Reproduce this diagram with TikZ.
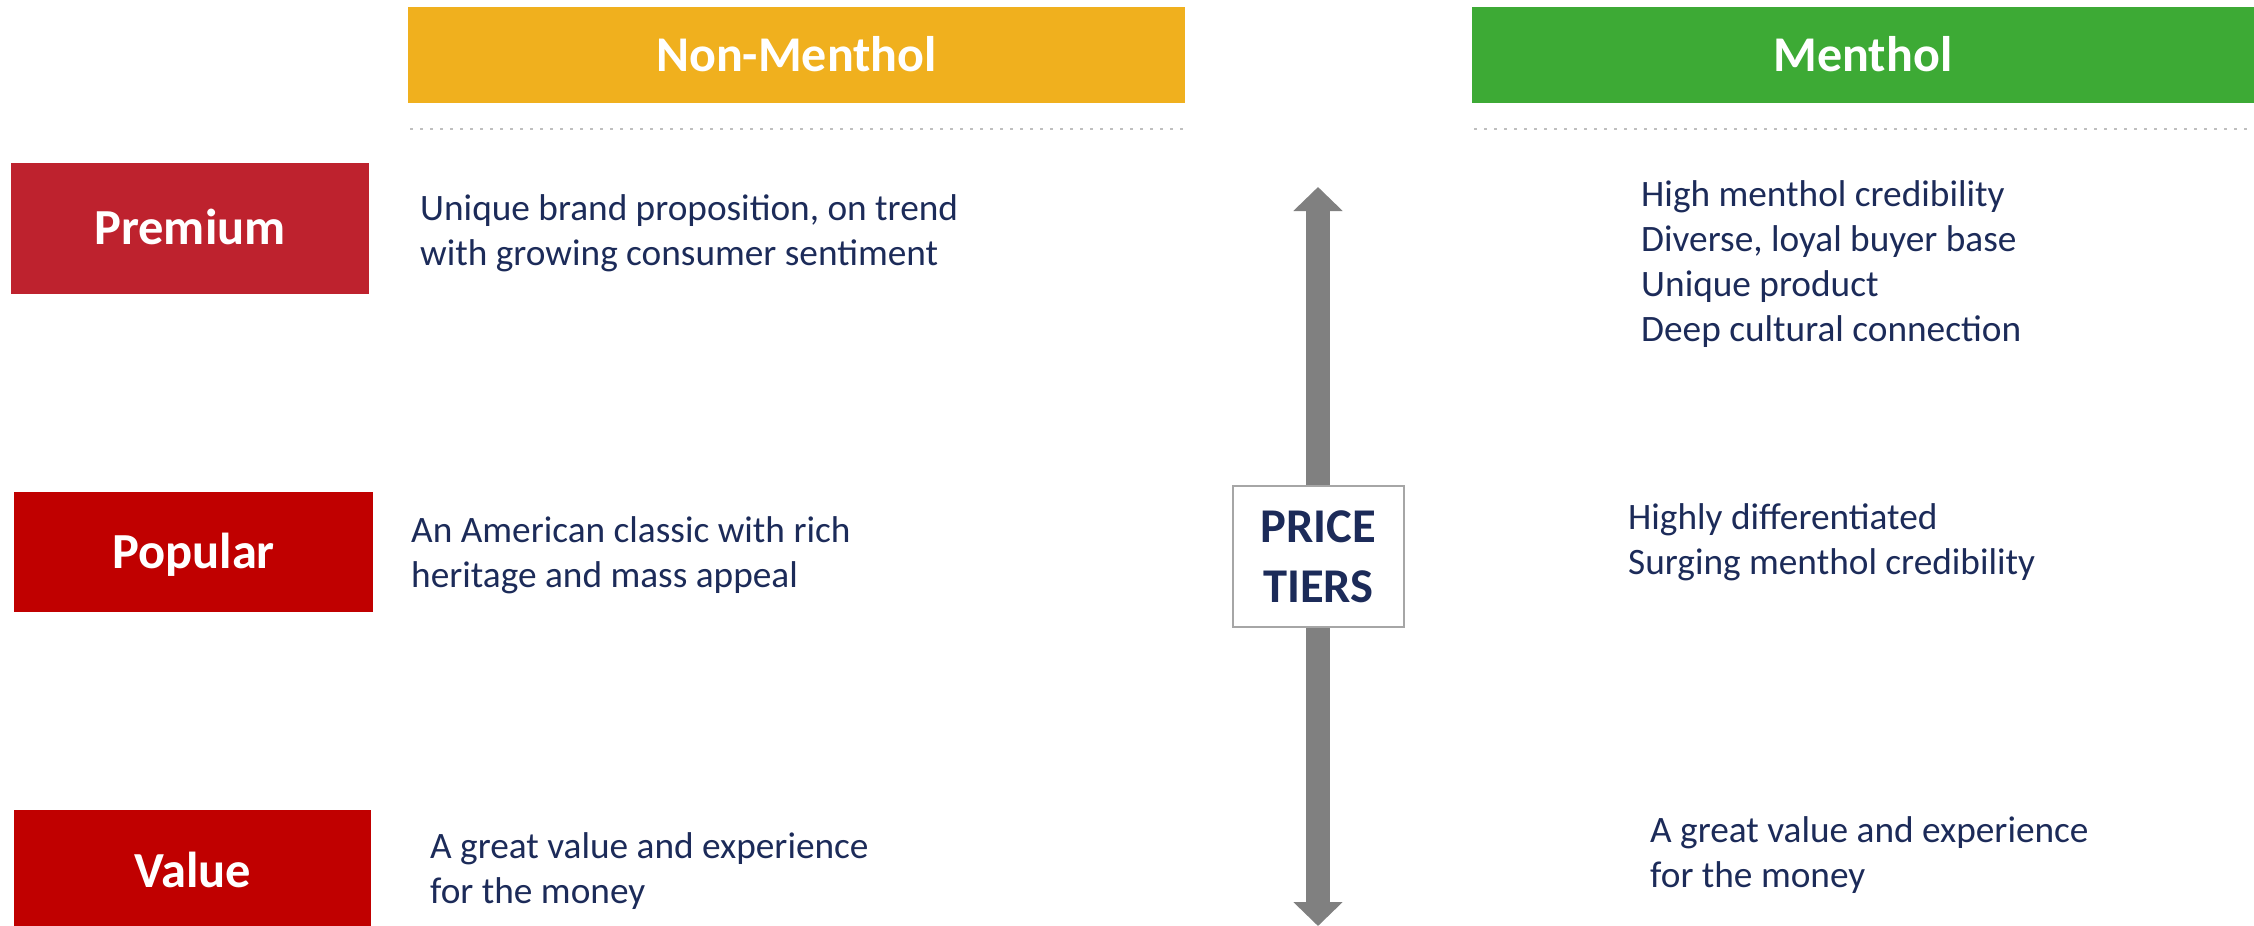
\documentclass[tikz,border=0pt]{standalone}
\usepackage{fontspec}
\setmainfont{Carlito}
\usetikzlibrary{arrows.meta}

\definecolor{nonmentholhead}{HTML}{F0B01E}
\definecolor{mentholhead}{HTML}{3DAA35}
\definecolor{premiumred}{HTML}{BE222E}
\definecolor{tierred}{HTML}{C00000}
\definecolor{bodynavy}{HTML}{1C2B59}
\definecolor{arrowgray}{HTML}{808080}
\definecolor{framegray}{HTML}{A6A6A6}
\definecolor{dotgray}{HTML}{BFBFBF}

\begin{document}
\begin{tikzpicture}[x=1pt, y=-1pt,
  headbox/.style={fill=#1, inner sep=0pt, minimum height=96pt,
    text=white, font=\fontsize{50}{60}\selectfont\bfseries,
    text height=32pt, text depth=0pt},
  tierbox/.style={fill=#1, inner sep=0pt, text=white,
    font=\fontsize{50.5}{60}\selectfont\bfseries,
    text height=32.5pt, text depth=0pt},
  bodyline/.style={anchor=base west, inner sep=0pt, text=bodynavy,
    font=\fontsize{37.3}{45}\selectfont},
  tiersbox/.style={draw=framegray, line width=2pt, fill=white,
    minimum width=171pt, minimum height=141pt, inner sep=0pt},
  tierstext/.style={anchor=base, inner sep=0pt, text=bodynavy,
    font=\fontsize{48.5}{60}\selectfont\bfseries},
  dotrule/.style={draw=dotgray, line width=2.5pt,
    dash pattern=on 2.5pt off 7.5pt},
  tiersarrow/.style={draw=arrowgray, line width=24pt,
    {Triangle[width=48pt,length=24pt]}-{Triangle[width=48pt,length=24pt]}}
]
\useasboundingbox (0,0) rectangle (2254,926);

% column headers
\node[headbox=nonmentholhead, minimum width=777pt] (hNon) at (796.5,55) {Non-Menthol};
\node[headbox=mentholhead, minimum width=782pt] (hMen) at (1863,55) {Menthol};

% dotted rules under the headers
\coordinate (dNonL) at (410,129);
\coordinate (dNonR) at (1184,129);
\coordinate (dMenL) at (1474,129);
\coordinate (dMenR) at (2254,129);
\draw[dotrule] (dNonL) -- (dNonR);
\draw[dotrule] (dMenL) -- (dMenR);

% price tier labels
\node[tierbox=premiumred, minimum width=358pt, minimum height=131pt] (tPremium) at (190,228.5) {Premium};
\node[tierbox=tierred, minimum width=359pt, minimum height=120pt] (tPopular) at (193.5,552) {Popular};
\node[tierbox=tierred, minimum width=357pt, minimum height=122pt] (tValue) at (192.5,871) {Value};

% non-menthol descriptions
\node[bodyline] (nmP1) at (420,220) {Unique brand proposition, on trend};
\node[bodyline] (nmP2) at (420,265) {with growing consumer sentiment};
\node[bodyline] (nmM1) at (411,542) {An American classic with rich};
\node[bodyline] (nmM2) at (411,587) {heritage and mass appeal};
\node[bodyline] (nmV1) at (430,858) {A great value and experience};
\node[bodyline] (nmV2) at (430,903) {for the money};

% menthol descriptions
\node[bodyline] (mP1) at (1641,206) {High menthol credibility};
\node[bodyline] (mP2) at (1641,251) {Diverse, loyal buyer base};
\node[bodyline] (mP3) at (1641,296) {Unique product};
\node[bodyline] (mP4) at (1641,341) {Deep cultural connection};
\node[bodyline] (mM1) at (1628,529) {Highly differentiated};
\node[bodyline] (mM2) at (1628,574) {Surging menthol credibility};
\node[bodyline] (mV1) at (1650,842) {A great value and experience};
\node[bodyline] (mV2) at (1650,887) {for the money};

% price axis with its label
\coordinate (axisTop) at (1318,187);
\coordinate (axisBot) at (1318,926);
\draw[tiersarrow] (axisTop) -- (axisBot);
\node[tiersbox] (tiers) at (1318.5,556.5) {};
\node[tierstext] (tiersA) at (1318.5,542) {PRICE};
\node[tierstext] (tiersB) at (1318.5,602) {TIERS};
\end{tikzpicture}
\end{document}
